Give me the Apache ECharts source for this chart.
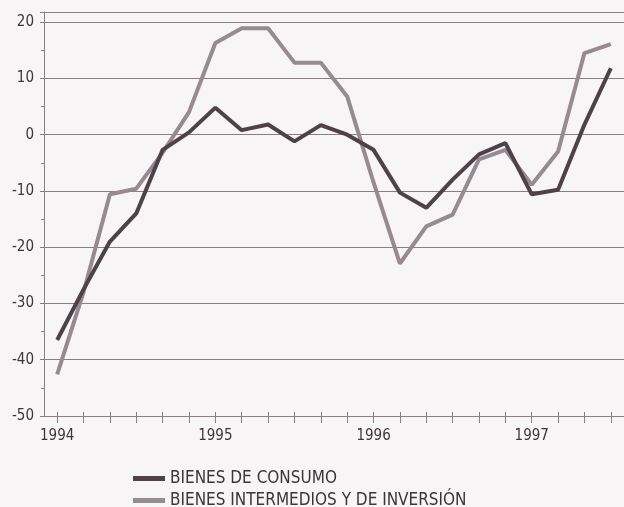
<!DOCTYPE html>
<html>
<head>
<meta charset="utf-8">
<script src="https://cdn.jsdelivr.net/npm/echarts@6/dist/echarts.min.js"></script>
<style>
  html, body { margin: 0; padding: 0; background: #f7f5f5; }
  #main { width: 624px; height: 507px; }
</style>
</head>
<body>
<div id="main"></div>
<script>
// 基于准备好的dom，初始化echarts实例
var myChart = echarts.init(document.getElementById('main'));

// 6 periods per year, 1994 .. 1997
var periods = [
  '1994', '1994-2', '1994-3', '1994-4', '1994-5', '1994-6',
  '1995', '1995-2', '1995-3', '1995-4', '1995-5', '1995-6',
  '1996', '1996-2', '1996-3', '1996-4', '1996-5', '1996-6',
  '1997', '1997-2', '1997-3', '1997-4'
];
var yearLabels = ['1994', '1995', '1996', '1997'];

var consumo = [-36.5, -27.5, -19, -14, -2.7, 0.4, 4.8, 0.8, 1.8, -1.2, 1.7, 0,
  -2.7, -10.3, -13, -8, -3.5, -1.5, -10.6, -9.8, 1.8, 11.8];
var intermedios = [-42.6, -28, -10.6, -9.6, -3.2, 4, 16.3, 18.9, 18.9, 12.8, 12.8, 6.8,
  -8.5, -22.9, -16.3, -14.2, -4.4, -2.7, -8.9, -3, 14.5, 16.1];

var yTicks = [-50, -40, -30, -20, -10, 0, 10, 20];

var font = "'DejaVu Sans Condensed', 'Liberation Sans Narrow', 'Liberation Sans', sans-serif";
var ink = '#3f3438';
var gridColor = '#8c7d83';

function legendAt(top, name) {
  return {
    left: 128,
    top: top,
    itemWidth: 32,
    itemHeight: 5,
    icon: 'rect',
    textStyle: { fontFamily: font, fontSize: 17, color: ink },
    data: [name]
  };
}

var option = {
  backgroundColor: '#f7f5f5',
  animation: false,
  textStyle: { fontFamily: font },
  grid: { left: 44, top: 12, width: 585, bottom: 91 },
  legend: [
    legendAt(465, 'BIENES DE CONSUMO'),
    legendAt(487, 'BIENES INTERMEDIOS Y DE INVERSIÓN')
  ],
  xAxis: [{
    type: 'category',
    data: periods,
    boundaryGap: true,
    axisLine: { onZero: false, lineStyle: { color: gridColor, width: 1 } },
    axisTick: { show: true, alignWithLabel: true, interval: 0, length: 7, lineStyle: { color: gridColor } },
    axisLabel: {
      interval: 0,
      margin: 13,
      fontSize: 15,
      color: ink,
      formatter: function (v) { return yearLabels.indexOf(v) >= 0 ? v : ' '; }
    }
  }, {
    // same ticks drawn upward from the bottom line
    type: 'category',
    data: periods,
    position: 'top',
    offset: -404,
    boundaryGap: true,
    axisLine: { show: false, onZero: false },
    axisTick: { show: true, alignWithLabel: true, interval: 0, length: 4, lineStyle: { color: gridColor } },
    axisLabel: { show: true, interval: 0, color: 'rgba(0,0,0,0)', formatter: function () { return ' '; } }
  }],
  yAxis: {
    type: 'value',
    min: yTicks[0],
    max: 21.8,
    interval: 10,
    axisLine: { show: true, lineStyle: { color: gridColor } },
    axisTick: { show: true, length: 4, lineStyle: { color: gridColor } },
    minorTick: { show: true, splitNumber: 2, length: 3, lineStyle: { color: gridColor } },
    splitLine: { show: true, lineStyle: { color: gridColor, width: 1 } },
    axisLabel: {
      margin: 10,
      fontSize: 15,
      color: ink,
      formatter: function (v) { return yTicks.indexOf(v) >= 0 ? String(v) : ''; }
    }
  },
  series: [{
    name: 'BIENES DE CONSUMO',
    type: 'line',
    data: consumo,
    symbol: 'none',
    z: 3,
    itemStyle: { color: '#4e4248' },
    lineStyle: { color: '#4e4248', width: 4 }
  }, {
    name: 'BIENES INTERMEDIOS Y DE INVERSIÓN',
    type: 'line',
    data: intermedios,
    symbol: 'none',
    z: 2,
    itemStyle: { color: '#978a91' },
    lineStyle: { color: '#978a91', width: 4 }
  }]
};

// 使用刚指定的配置项和数据显示图表。
myChart.setOption(option);
</script>
</body>
</html>
